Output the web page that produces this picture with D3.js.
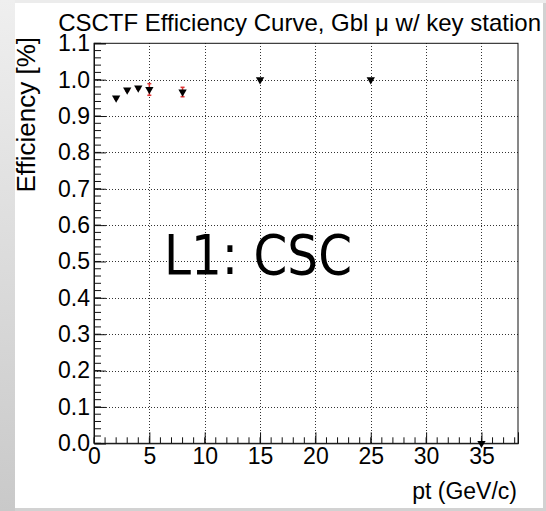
<!DOCTYPE html>
<html>
<head>
<meta charset="utf-8">
<script src="https://cdn.jsdelivr.net/npm/d3@7"></script>
<style>
  html, body { margin: 0; padding: 0; background: #d4d4d4; }
  svg { display: block; }
</style>
</head>
<body>
<svg id="chart" width="546" height="511"></svg>
<script>
// Efficiency vs transverse momentum for the CSC track finder
const ptValues   = [2, 3, 4, 5, 8, 15, 25, 35];
const effValues  = [0.950, 0.972, 0.977, 0.973, 0.966, 1.0, 1.0, 0.0];
const effErrors  = [0.003, 0.003, 0.003, 0.016, 0.013, 0.0, 0.0, 0.0];
const xTicks     = [0, 5, 10, 15, 20, 25, 30, 35];
const yTicks     = [0.0, 0.1, 0.2, 0.3, 0.4, 0.5, 0.6, 0.7, 0.8, 0.9, 1.0, 1.1];
const titleText  = "CSCTF Efficiency Curve, Gbl \u03bc w/ key station";
const xTitle     = "pt (GeV/c)";
const yTitle     = "Efficiency [%]";
const stampText  = "L1: CSC";

const svg = d3.select("#chart");
const W = 546, H = 511;
const frame = { left: 94, right: 518, top: 43.3, bottom: 443.3 };
const font = "'Liberation Sans', Arial, sans-serif";

// page background: grey margin with a white panel
const defs = svg.append("defs");
const grad = defs.append("linearGradient").attr("id", "edge")
  .attr("x1", 0).attr("y1", 0).attr("x2", 0).attr("y2", 1);
grad.append("stop").attr("offset", "0%").attr("stop-color", "#efefef");
grad.append("stop").attr("offset", "100%").attr("stop-color", "#c9c9c9");
svg.append("rect").attr("width", W).attr("height", H).attr("fill", "#d2d2d2");
svg.append("rect").attr("width", 15).attr("height", H).attr("fill", "url(#edge)");
svg.append("rect").attr("x", 15).attr("width", W - 15).attr("height", 3).attr("fill", "#ececec");
svg.append("rect").attr("x", 15).attr("y", 3).attr("width", 528).attr("height", 505).attr("fill", "#ffffff");

const x = d3.scaleLinear().domain([0, 38.3]).range([frame.left, frame.right]);
const y = d3.scaleLinear().domain([0, 1.1]).range([frame.bottom, frame.top]);

// dotted grid at the major ticks
const grid = svg.append("g").attr("stroke", "#333").attr("stroke-width", 1)
  .attr("stroke-dasharray", "1,2").attr("shape-rendering", "crispEdges");
grid.selectAll("line.v").data(xTicks.filter(d => d > 0)).join("line")
  .attr("x1", d => Math.round(x(d)) + 0.5).attr("x2", d => Math.round(x(d)) + 0.5)
  .attr("y1", frame.top).attr("y2", frame.bottom);
grid.selectAll("line.h").data(yTicks.filter(d => d > 0 && d < 1.1)).join("line")
  .attr("y1", d => Math.round(y(d)) + 0.5).attr("y2", d => Math.round(y(d)) + 0.5)
  .attr("x1", frame.left).attr("x2", frame.right);

// frame box
svg.append("rect")
  .attr("x", frame.left).attr("y", frame.top)
  .attr("width", frame.right - frame.left).attr("height", frame.bottom - frame.top)
  .attr("fill", "none").attr("stroke", "#111").attr("stroke-width", 1);

// axes: ticks pointing into the frame, minor ticks every fifth
const xMinor = d3.range(0, 39, 1);
const yMinor = d3.range(0, 56).map(i => i * 0.02);
const xAxis = d3.axisBottom(x).tickValues(xTicks).tickSize(-11).tickPadding(4)
  .tickFormat(d3.format("d"));
const yAxis = d3.axisLeft(y).tickValues(yTicks).tickSize(-12).tickPadding(17)
  .tickFormat(d3.format(".1f"));

const gx = svg.append("g").attr("transform", `translate(0,${frame.bottom})`);
gx.selectAll("line.minor").data(xMinor).join("line")
  .attr("x1", d => x(d)).attr("x2", d => x(d)).attr("y1", 0).attr("y2", -6)
  .attr("stroke", "#111");
gx.call(xAxis);

const gy = svg.append("g").attr("transform", `translate(${frame.left},0)`);
gy.selectAll("line.minor").data(yMinor).join("line")
  .attr("y1", d => y(d)).attr("y2", d => y(d)).attr("x1", 0).attr("x2", 7)
  .attr("stroke", "#111");
gy.call(yAxis);

[gx, gy].forEach(g => {
  g.select(".domain").attr("stroke", "#111");
  g.selectAll(".tick line").attr("stroke", "#111");
  g.selectAll(".tick text").attr("font-family", font).attr("font-size", 23).attr("fill", "#000");
});
gy.selectAll(".tick text").attr("x", -4);

// titles
svg.append("text").attr("x", 541).attr("y", 31).attr("text-anchor", "end")
  .attr("font-family", font).attr("font-size", 24).attr("fill", "#000").text(titleText);
svg.append("text").attr("x", 517).attr("y", 499).attr("text-anchor", "end")
  .attr("font-family", font).attr("font-size", 23).attr("fill", "#000").text(xTitle);
svg.append("text").attr("transform", "translate(35,37) rotate(-90)").attr("text-anchor", "end")
  .attr("font-family", font).attr("font-size", 26).attr("fill", "#000").text(yTitle);

// large label inside the frame
svg.append("text").attr("x", 164).attr("y", 274)
  .attr("font-family", "'DejaVu Sans Condensed', 'DejaVu Sans', Verdana, sans-serif")
  .attr("font-size", 55).attr("textLength", 188).attr("lengthAdjust", "spacingAndGlyphs")
  .attr("fill", "#000").text(stampText);

// data points with red error bars
const pts = ptValues.map((p, i) => ({ p, e: effValues[i], err: effErrors[i] }));
const bars = svg.append("g").attr("stroke", "#e03434").attr("stroke-width", 1.5);
pts.filter(d => d.err > 0).forEach(d => {
  const cx = x(d.p);
  bars.append("line").attr("x1", cx).attr("x2", cx)
    .attr("y1", y(d.e + d.err)).attr("y2", y(d.e - d.err));
  bars.append("line").attr("x1", cx - 2).attr("x2", cx + 2)
    .attr("y1", y(d.e + d.err)).attr("y2", y(d.e + d.err));
  bars.append("line").attr("x1", cx - 2).attr("x2", cx + 2)
    .attr("y1", y(d.e - d.err)).attr("y2", y(d.e - d.err));
});
const tri = d3.symbol().type(d3.symbolTriangle).size(30);
svg.append("g").selectAll("path").data(pts).join("path")
  .attr("d", tri)
  .attr("transform", d => `translate(${x(d.p)},${y(d.e)}) rotate(180)`)
  .attr("fill", "#000");
</script>
</body>
</html>
